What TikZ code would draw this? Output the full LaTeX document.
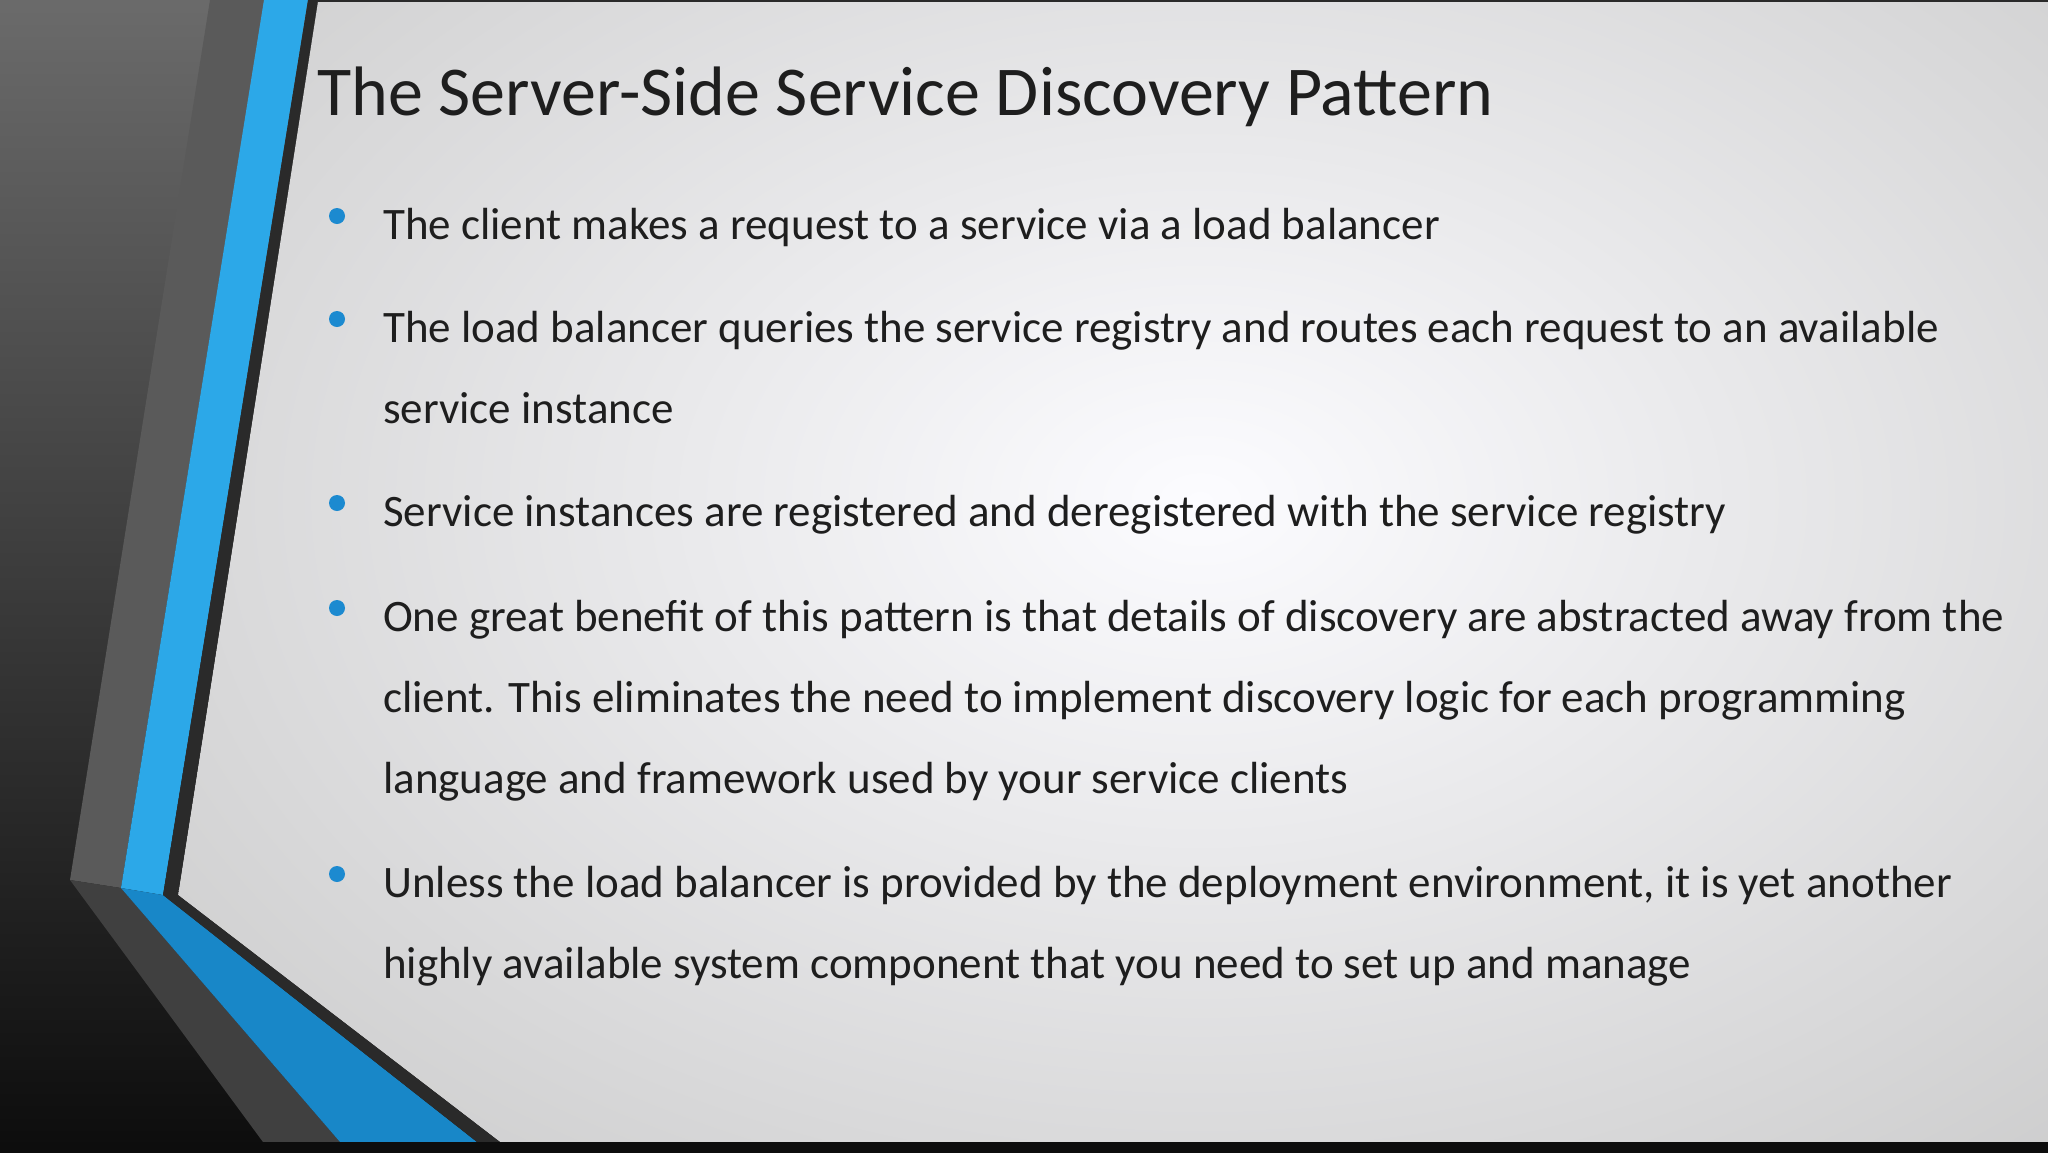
\documentclass[tikz,border=0pt]{standalone}
\usepackage{fontspec}
\setmainfont{Carlito}
\definecolor{bluelight}{HTML}{2CA8E8}
\definecolor{bluedark}{HTML}{1887C8}
\definecolor{grayA}{HTML}{5A5A5A}
\definecolor{grayB}{HTML}{404040}
\definecolor{edge}{HTML}{2A2A2A}
\definecolor{bulletc}{HTML}{1C8AD0}
\definecolor{txt}{HTML}{1E1E1E}
\tikzset{
  body/.style={anchor=base west,inner sep=0pt,text=txt,font=\fontsize{45}{52}\selectfont},
  bul/.style={circle,fill=bulletc,inner sep=0pt,minimum size=16pt}
}
\begin{document}
\begin{tikzpicture}[x=1pt,y=-1pt]
\useasboundingbox (0,0) rectangle (2048,1152);
% dark background
\shade[top color=grayA!90,bottom color=black!95] (0,0) rectangle (2048,1152);
% light slide area
\begin{scope}
\clip (318,2) -- (2048,2) -- (2048,1142) -- (500,1142) -- (178,895) -- cycle;
\shade[inner color=white!97!blue!40, outer color=black!22!white] (-300,-500) rectangle (2700,1500);
\end{scope}
% gray stripe
\fill[grayA] (210,0) -- (264,0) -- (121,888) -- (70,880) -- cycle;
\fill[grayB] (70,880) -- (121,888) -- (340,1142) -- (263,1142) -- cycle;
% blue stripe
\fill[bluelight] (264,0) -- (308,0) -- (163,895) -- (121,888) -- cycle;
\fill[bluedark] (121,888) -- (163,895) -- (477,1142) -- (340,1142) -- cycle;
% dark edge
\fill[edge] (308,0) -- (318,0) -- (178,895) -- (500,1142) -- (477,1142) -- (163,895) -- cycle;
\fill[edge] (318,0) rectangle (2048,2);
\fill[black!95] (0,1142) rectangle (2048,1152);
% title
\node[anchor=base west,inner sep=0pt,text=txt,font=\fontsize{70}{78}\selectfont] (title) at (317,115) {The Server-Side Service Discovery Pattern};
% bullets
\node[bul] (b1) at (337,216) {};
\node[body] (t1) at (383,239) {The client makes a request to a service via a load balancer};
\node[bul] (b2) at (337,319) {};
\node[body] (t2a) at (383,342) {The load balancer queries the service registry and routes each request to an available};
\node[body] (t2b) at (383,423) {service instance};
\node[bul] (b3) at (337,503) {};
\node[body] (t3) at (383,526) {Service instances are registered and deregistered with the service registry};
\node[bul] (b4) at (337,608) {};
\node[body] (t4a) at (383,631) {One great benefit of this pattern is that details of discovery are abstracted away from the};
\node[body] (t4b) at (383,712) {client. This eliminates the need to implement discovery logic for each programming};
\node[body] (t4c) at (383,793) {language and framework used by your service clients};
\node[bul] (b5) at (337,874) {};
\node[body] (t5a) at (383,897) {Unless the load balancer is provided by the deployment environment, it is yet another};
\node[body] (t5b) at (383,978) {highly available system component that you need to set up and manage};
\end{tikzpicture}
\end{document}
